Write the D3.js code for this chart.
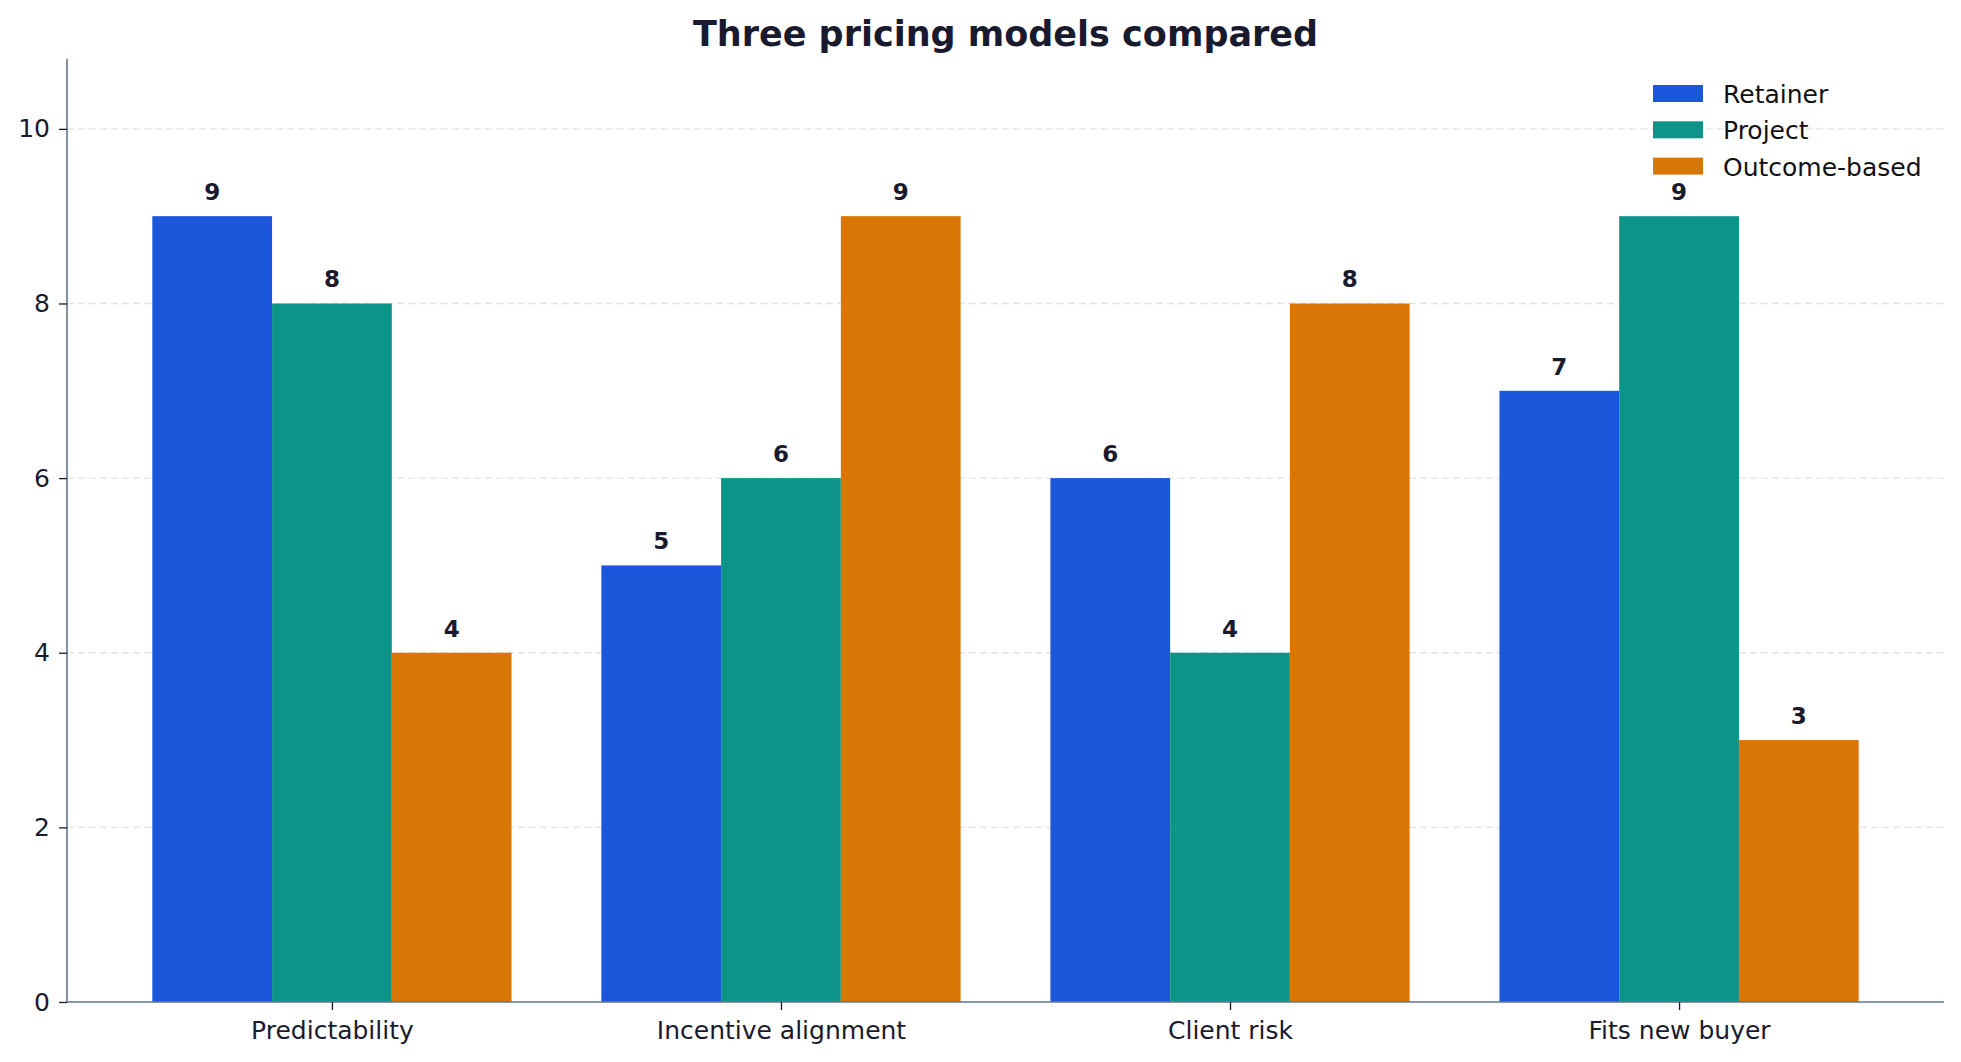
<!DOCTYPE html>
<html>
<head>
<meta charset="utf-8">
<script src="https://cdn.jsdelivr.net/npm/d3@7"></script>
<style>
  body { margin: 0; background: #fff; }
  text { font-family: "DejaVu Sans", sans-serif; }
</style>
</head>
<body>
<div id="chart"></div>
<script>
// Chart data
var categories = ["Predictability", "Incentive alignment", "Client risk", "Fits new buyer"];
var seriesNames = ["Retainer", "Project", "Outcome-based"];
var retainer = [9, 5, 6, 7];
var project = [8, 6, 4, 9];
var outcome = [4, 9, 8, 3];
var yTicks = [0, 2, 4, 6, 8, 10];
var colors = ["#1b56db", "#0d9488", "#d97706"];
var allSeries = [retainer, project, outcome];

var svgWidth = 1961;
var svgHeight = 1062;

var margin = { top: 59, right: 17, bottom: 60, left: 67 };
var width = svgWidth - margin.left - margin.right;
var height = 1002 - margin.top;

var svg = d3.select("#chart")
    .append("svg")
    .attr("width", svgWidth)
    .attr("height", svgHeight);

var chartGroup = svg.append("g")
    .attr("transform", `translate(${margin.left}, ${margin.top})`);

var barW = 0.8 / 3;

// scales (matplotlib-like x limits with 5% margins)
var xScale = d3.scaleLinear()
    .domain([-0.59, categories.length - 1 + 0.59])
    .range([0, width]);

var yScale = d3.scaleLinear()
    .domain([0, 10.8])
    .range([height, 0]);

// gridlines
chartGroup.selectAll(".grid")
    .data(yTicks.filter(d => d > 0))
    .enter()
    .append("line")
    .attr("x1", 0)
    .attr("x2", width)
    .attr("y1", d => yScale(d))
    .attr("y2", d => yScale(d))
    .attr("stroke", "#e3e3e3")
    .attr("stroke-width", 1.3)
    .attr("stroke-dasharray", "7,4");

// bars
var barData = [];
allSeries.forEach(function(vals, s) {
    vals.forEach(function(v, i) {
        barData.push({ s: s, i: i, v: v });
    });
});

chartGroup.selectAll(".bar")
    .data(barData)
    .enter()
    .append("rect")
    .attr("x", d => xScale(d.i + (d.s - 1.5) * barW))
    .attr("width", d => xScale(barW) - xScale(0))
    .attr("y", d => yScale(d.v))
    .attr("height", d => yScale(0) - yScale(d.v))
    .attr("fill", d => colors[d.s]);

// value labels
chartGroup.selectAll(".vlabel")
    .data(barData)
    .enter()
    .append("text")
    .attr("x", d => xScale(d.i + (d.s - 1) * barW))
    .attr("y", d => yScale(d.v) - 16)
    .attr("text-anchor", "middle")
    .attr("font-size", "23px")
    .attr("font-weight", "bold")
    .attr("fill", "#1a1a2e")
    .text(d => d.v);

// axes
var bottomAxis = d3.axisBottom(xScale)
    .tickValues(d3.range(categories.length))
    .tickFormat(i => categories[i])
    .tickSize(8)
    .tickPadding(11);
var leftAxis = d3.axisLeft(yScale)
    .tickValues(yTicks)
    .tickSize(8)
    .tickPadding(9);

var xAxisG = chartGroup.append("g")
    .attr("transform", `translate(0, ${height})`)
    .call(bottomAxis);
var yAxisG = chartGroup.append("g")
    .call(leftAxis);

[xAxisG, yAxisG].forEach(function(g) {
    g.select(".domain").attr("stroke", "#64748b").attr("stroke-width", 1.6);
    g.selectAll(".tick line").attr("stroke", "#1a1a2e").attr("stroke-width", 1.3);
    g.selectAll(".tick text")
        .attr("fill", "#1a1a2e")
        .attr("font-size", "25px")
        .attr("font-family", "DejaVu Sans, sans-serif");
});
xAxisG.select(".domain").attr("d", `M0,0H${width}`);
yAxisG.select(".domain").attr("d", `M0,${height}V0`);

// title
svg.append("text")
    .attr("x", margin.left + width / 2)
    .attr("y", 46)
    .attr("text-anchor", "middle")
    .attr("font-size", "35px")
    .attr("font-weight", "bold")
    .attr("fill", "#1a1a2e")
    .text("Three pricing models compared");

// legend
var legend = svg.append("g")
    .attr("transform", "translate(1653, 85)");

seriesNames.forEach(function(name, k) {
    legend.append("rect")
        .attr("x", 0)
        .attr("y", k * 36.3)
        .attr("width", 50)
        .attr("height", 17)
        .attr("fill", colors[k]);
    legend.append("text")
        .attr("x", 70)
        .attr("y", k * 36.3 + 18)
        .attr("font-size", "25px")
        .attr("fill", "#111")
        .text(name);
});
</script>
</body>
</html>
